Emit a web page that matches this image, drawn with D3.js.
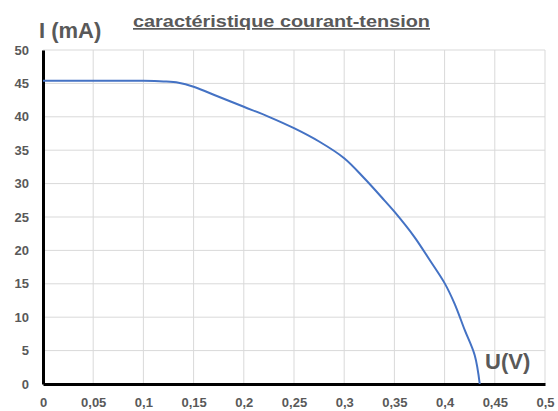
<!DOCTYPE html>
<html>
<head>
<meta charset="utf-8">
<script src="https://cdn.jsdelivr.net/npm/d3@7"></script>
<style>
	body { margin: 0; background: #fff; }
	svg { display: block; font-family: "Liberation Sans", Arial, sans-serif; }
</style>
</head>
<body>
<svg id="chart" width="558" height="411"></svg>
<script>
// measured points, tension (V) and courant (mA)
const tension = [0, 0.05, 0.1, 0.12, 0.135, 0.15, 0.175, 0.2, 0.225, 0.25, 0.275, 0.3,
	0.32, 0.34, 0.35, 0.37, 0.385, 0.4, 0.41, 0.42, 0.43, 0.435];
const courant = [45.4, 45.4, 45.4, 45.3, 45.1, 44.5, 43.0, 41.5, 40.0, 38.3, 36.3, 33.8,
	30.8, 27.5, 25.8, 22.0, 18.6, 15.1, 12.0, 8.1, 4.3, 0];
const xTicks = [0, 0.05, 0.1, 0.15, 0.2, 0.25, 0.3, 0.35, 0.4, 0.45, 0.5];
const yTicks = [0, 5, 10, 15, 20, 25, 30, 35, 40, 45, 50];
const titre = 'caractéristique courant-tension';

const svg = d3.select('#chart');
const margin = {top: 50, right: 13, bottom: 27, left: 43};
const width = 558 - margin.left - margin.right;
const height = 411 - margin.top - margin.bottom;
const grey = '#595959';

const x = d3.scaleLinear().domain([0, 0.5]).range([0, width]);
const y = d3.scaleLinear().domain([0, 50]).range([height, 0]);

const g = svg.append('g').attr('transform', `translate(${margin.left}, ${margin.top})`);

// grid
g.append('g')
	.selectAll('line')
	.data(yTicks)
	.enter()
	.append('line')
	.attr('x1', 0).attr('x2', width)
	.attr('y1', (d) => y(d)).attr('y2', (d) => y(d))
	.attr('stroke', '#d9d9d9').attr('stroke-width', 1);
g.append('g')
	.selectAll('line')
	.data(xTicks)
	.enter()
	.append('line')
	.attr('x1', (d) => x(d)).attr('x2', (d) => x(d))
	.attr('y1', 0).attr('y2', height)
	.attr('stroke', '#d9d9d9').attr('stroke-width', 1);

// axes
const fmt = (d) => String(d).replace('.', ',');
const xAxis = g.append('g')
	.attr('transform', `translate(0, ${height})`)
	.call(d3.axisBottom(x).tickValues(xTicks).tickFormat(fmt).tickSize(0).tickPadding(14));
const yAxis = g.append('g')
	.call(d3.axisLeft(y).tickValues(yTicks).tickSize(0).tickPadding(14));
[xAxis, yAxis].forEach((a) => {
	a.select('.domain').attr('stroke', '#000').attr('stroke-width', 3);
	a.selectAll('text')
		.attr('fill', grey)
		.style('font-size', '13px')
		.style('font-weight', 'bold')
		.style('font-family', '"Liberation Sans", Arial, sans-serif');
});

// curve
const pts = tension.map((u, i) => [u, courant[i]]);
g.append('path')
	.datum(pts)
	.attr('fill', 'none')
	.attr('stroke', '#4472c4')
	.attr('stroke-width', 2)
	.attr('d', d3.line()
		.x((p) => x(p[0]))
		.y((p) => y(p[1]))
		.curve(d3.curveCatmullRom.alpha(0.5)));

// labels
svg.append('text')
	.attr('x', 133).attr('y', 27)
	.attr('fill', grey)
	.attr('textLength', 297)
	.attr('lengthAdjust', 'spacingAndGlyphs')
	.style('font-size', '17px')
	.style('font-weight', 'bold')
	.style('text-decoration', 'underline')
	.text(titre);
svg.append('text')
	.attr('x', 39).attr('y', 38)
	.attr('fill', grey)
	.style('font-size', '22px')
	.style('font-weight', 'bold')
	.text('I (mA)');
svg.append('text')
	.attr('x', 485).attr('y', 369)
	.attr('fill', grey)
	.style('font-size', '22px')
	.style('font-weight', 'bold')
	.text('U(V)');
</script>
</body>
</html>
